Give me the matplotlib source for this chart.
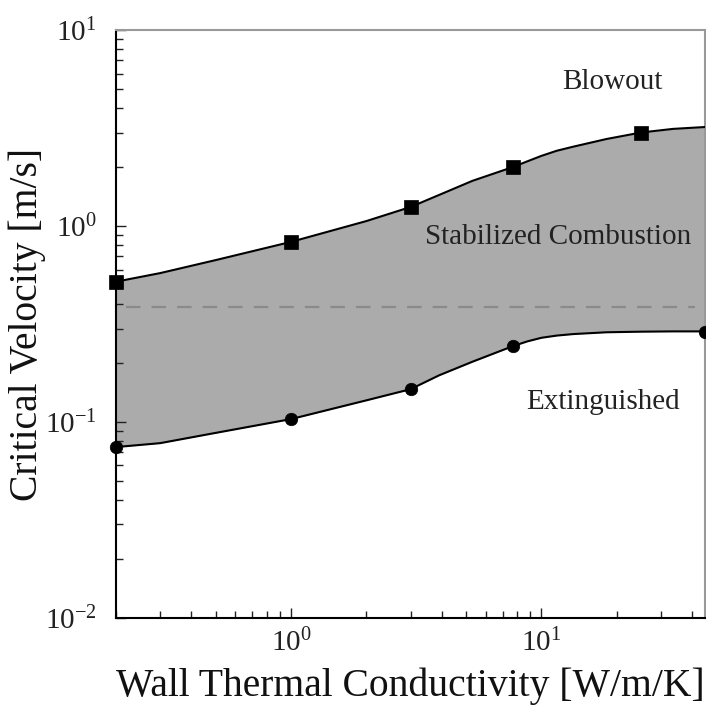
import matplotlib
matplotlib.use("Agg")
import matplotlib.pyplot as plt

# wall conductivity [W/m/K] sampled along the two stability limits
k_curve = [0.2, 0.3, 0.5, 1.0, 2.0, 3.0, 3.9, 5.3, 7.7, 8.8, 10.0, 11.5,
           13.4, 18.2, 25.0, 33.5, 45.0]
v_blowout = [0.52, 0.575, 0.67, 0.83, 1.06, 1.25, 1.44, 1.70, 2.0, 2.14,
             2.28, 2.42, 2.54, 2.78, 3.0, 3.13, 3.2]
v_extinct = [0.0745, 0.078, 0.088, 0.1035, 0.129, 0.147, 0.173, 0.203,
             0.244, 0.258, 0.269, 0.276, 0.281, 0.287, 0.289, 0.29, 0.29]

# computed cases (markers)
k_blow_pts = [0.2, 1.0, 3.0, 7.7, 25.0]
v_blow_pts = [0.52, 0.83, 1.25, 2.0, 3.0]
k_ext_pts = [0.2, 1.0, 3.0, 7.7, 45.0]
v_ext_pts = [0.0745, 0.1035, 0.147, 0.244, 0.289]

# reference inlet velocity
v_ref = 0.386
k_ref = [0.22, 41.0]

plt.rcParams["font.family"] = ["Liberation Serif", "DejaVu Serif"]
plt.rcParams["mathtext.fontset"] = "stix"

fig = plt.figure(figsize=(7.06, 7.05), dpi=100)
ax = fig.add_axes([0.1643, 0.1234, 0.8343, 0.834])

ax.fill_between(k_curve, v_extinct, v_blowout, color="#ababab", lw=0, zorder=1)
ax.plot(k_curve, v_blowout, color="black", lw=1.5, zorder=3)
ax.plot(k_curve, v_extinct, color="black", lw=1.5, zorder=3)
ax.plot(k_ref, [v_ref, v_ref], color="#8a8a8a", lw=1.6, dashes=(6.5, 5), zorder=2)

ax.plot(k_blow_pts, v_blow_pts, "s", color="black", ms=9.5, mew=0.5,
        clip_on=False, zorder=4)
ax.plot(k_ext_pts, v_ext_pts, "o", color="black", ms=9, mew=0.5,
        clip_on=False, zorder=4)

ax.set_xscale("log")
ax.set_yscale("log")
ax.set_xlim(0.2, 45)
ax.set_ylim(1e-2, 1e1)

for side in ["left", "bottom"]:
    ax.spines[side].set_linewidth(1.5)
    ax.spines[side].set_color("black")
for side in ["top", "right"]:
    ax.spines[side].set_linewidth(1.5)
    ax.spines[side].set_color("#999999")

ax.tick_params(which="both", direction="in", top=False, right=False,
               width=1.0, color="#222222")
ax.tick_params(which="major", length=7, labelsize=21)
ax.tick_params(which="minor", length=5)
ax.tick_params(axis="y", which="major", pad=14)
ax.tick_params(axis="x", which="major", pad=8)
for lbl in ax.get_xticklabels() + ax.get_yticklabels():
    lbl.set_color("#222222")

ax.set_xlabel("Wall Thermal Conductivity [W/m/K]", fontsize=28.5, color="#111111")
ax.set_ylabel("Critical Velocity [m/s]", fontsize=28.5, color="#111111")
ax.xaxis.set_label_coords(0.5, -0.084)
ax.yaxis.set_label_coords(-0.118, 0.5)

ax.text(0.842, 0.912, "Blowout", transform=ax.transAxes, fontsize=21,
        ha="center", va="center", color="#222222")
ax.text(0.750, 0.648, "Stabilized Combustion", transform=ax.transAxes,
        fontsize=21, ha="center", va="center", color="#222222")
ax.text(0.827, 0.368, "Extinguished", transform=ax.transAxes, fontsize=21,
        ha="center", va="center", color="#222222")

fig.savefig("out.png", dpi=100)
